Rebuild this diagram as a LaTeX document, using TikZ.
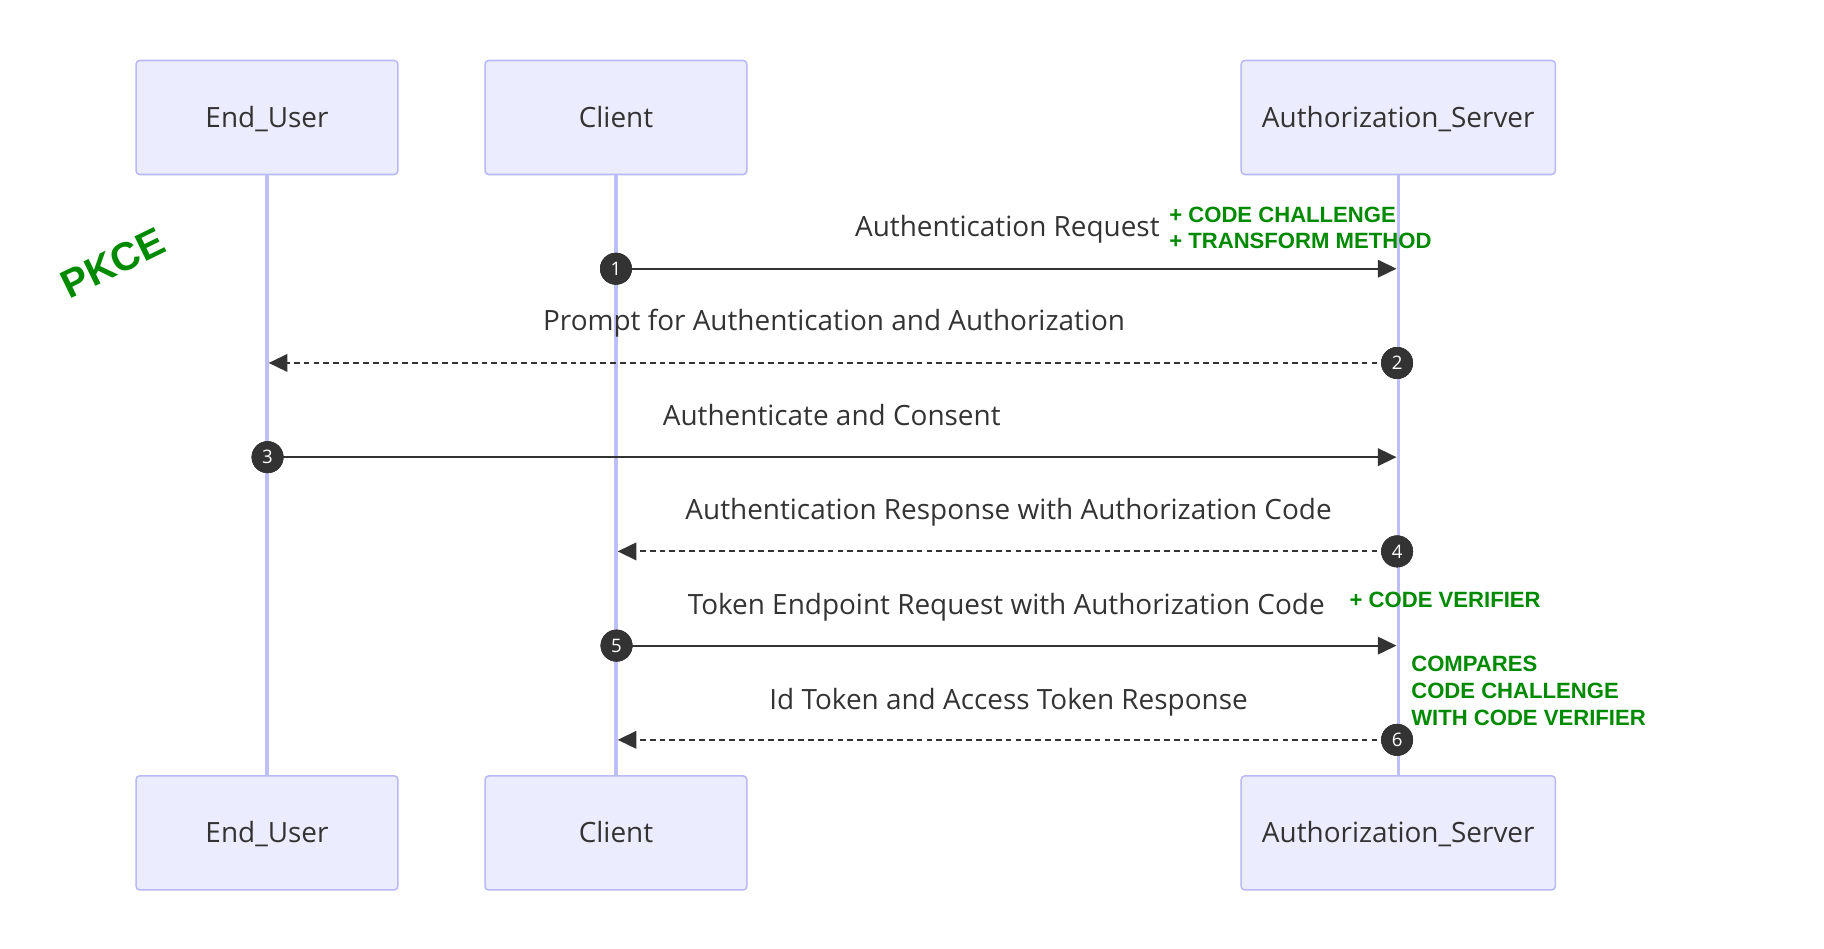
\documentclass[tikz,border=0pt]{standalone}
\usepackage{fontspec}
\setmainfont{Open Sans}
\newfontfamily\gfont{Liberation Sans}
\usetikzlibrary{arrows.meta,calc}
\definecolor{boxfill}{HTML}{ECECFF}
\definecolor{boxline}{HTML}{B9B9F5}
\definecolor{lifeln}{HTML}{BEBEF8}
\definecolor{ink}{HTML}{333333}
\definecolor{pk}{HTML}{008A00}
\begin{document}
\begin{tikzpicture}[x=1pt,y=-1pt,
  actor/.style={draw=boxline, fill=boxfill, line width=1.3pt, rounded corners=3pt,
    minimum width=225pt, minimum height=98pt, inner sep=0pt,
    text height=17pt, text depth=0pt,
    font=\fontsize{24}{28}\selectfont, text=ink},
  life/.style={draw=lifeln, line width=2.8pt},
  num/.style={circle, fill=ink, draw=ink, minimum size=27pt, inner sep=0pt,
    text=white, font=\fontsize{16}{18}\selectfont},
  msg/.style={draw=ink, line width=1.8pt, -{Triangle[length=16pt,width=15pt]}, shorten >=1.5pt},
  reply/.style={msg, dash pattern=on 5pt off 3.5pt},
  lbl/.style={text=ink, font=\fontsize{24}{28}\selectfont, inner sep=0pt,
    text height=17pt, text depth=0pt},
  note/.style={text=pk, font=\gfont\bfseries\fontsize{19}{23}\selectfont, align=left, inner sep=0pt, anchor=west}
]
\useasboundingbox (0,0) rectangle (1568,815);

% actors
\node[actor] (euT) at (229.5,101) {End\_User};
\node[actor] (clT) at (529.5,101) {Client};
\node[actor, minimum width=270pt] (asT) at (1202,101) {Authorization\_Server};
\node[actor] (euB) at (229.5,716) {End\_User};
\node[actor] (clB) at (529.5,716) {Client};
\node[actor, minimum width=270pt] (asB) at (1202,716) {Authorization\_Server};

% lifelines
\draw[life] (euT.south) -- (euB.north);
\draw[life] (clT.south) -- (clB.north);
\draw[life] (asT.south) -- (asB.north);

% message 1
\node[num] (n1) at (529.5,231) {1};
\coordinate (t1) at (asT.south |- n1);
\draw[msg] (n1.center) -- (t1);
\node[lbl] (l1) at (866,195) {Authentication Request};

% message 2
\node[num] (n2) at (1201,312) {2};
\coordinate (t2) at (euT.south |- n2);
\draw[reply] (n2.center) -- (t2);
\node[lbl] (l2) at (717,276) {Prompt for Authentication and Authorization};

% message 3
\node[num] (n3) at (230,393) {3};
\coordinate (t3) at (asT.south |- n3);
\draw[msg] (n3.center) -- (t3);
\node[lbl] (l3) at (715,357) {Authenticate and Consent};

% message 4
\node[num] (n4) at (1201,474) {4};
\coordinate (t4) at (clT.south |- n4);
\draw[reply] (n4.center) -- (t4);
\node[lbl] (l4) at (867,438) {Authentication Response with Authorization Code};

% message 5
\node[num] (n5) at (530,555) {5};
\coordinate (t5) at (asT.south |- n5);
\draw[msg] (n5.center) -- (t5);
\node[lbl] (l5) at (865,520) {Token Endpoint Request with Authorization Code};

% message 6
\node[num] (n6) at (1201,636) {6};
\coordinate (t6) at (clT.south |- n6);
\draw[reply] (n6.center) -- (t6);
\node[lbl] (l6) at (867,601) {Id Token and Access Token Response};

% redraw circles on top
\foreach \n/\t in {n1/1,n2/2,n3/3,n4/4,n5/5,n6/6}{
  \node[num] at (\n) {\t};
}

% green notes
\node[note] (g1) at (1005,196) {+ CODE CHALLENGE\\+ TRANSFORM METHOD};
\node[note] (g2) at (1160,515.5) {+ CODE VERIFIER};
\node[note] (g3) at (1213,594) {COMPARES\\CODE CHALLENGE\\WITH CODE VERIFIER};
\node[text=pk, font=\gfont\bfseries\fontsize{34}{40}\selectfont, rotate=26, inner sep=0pt] (pkce) at (97,226) {PKCE};
\end{tikzpicture}
\end{document}
